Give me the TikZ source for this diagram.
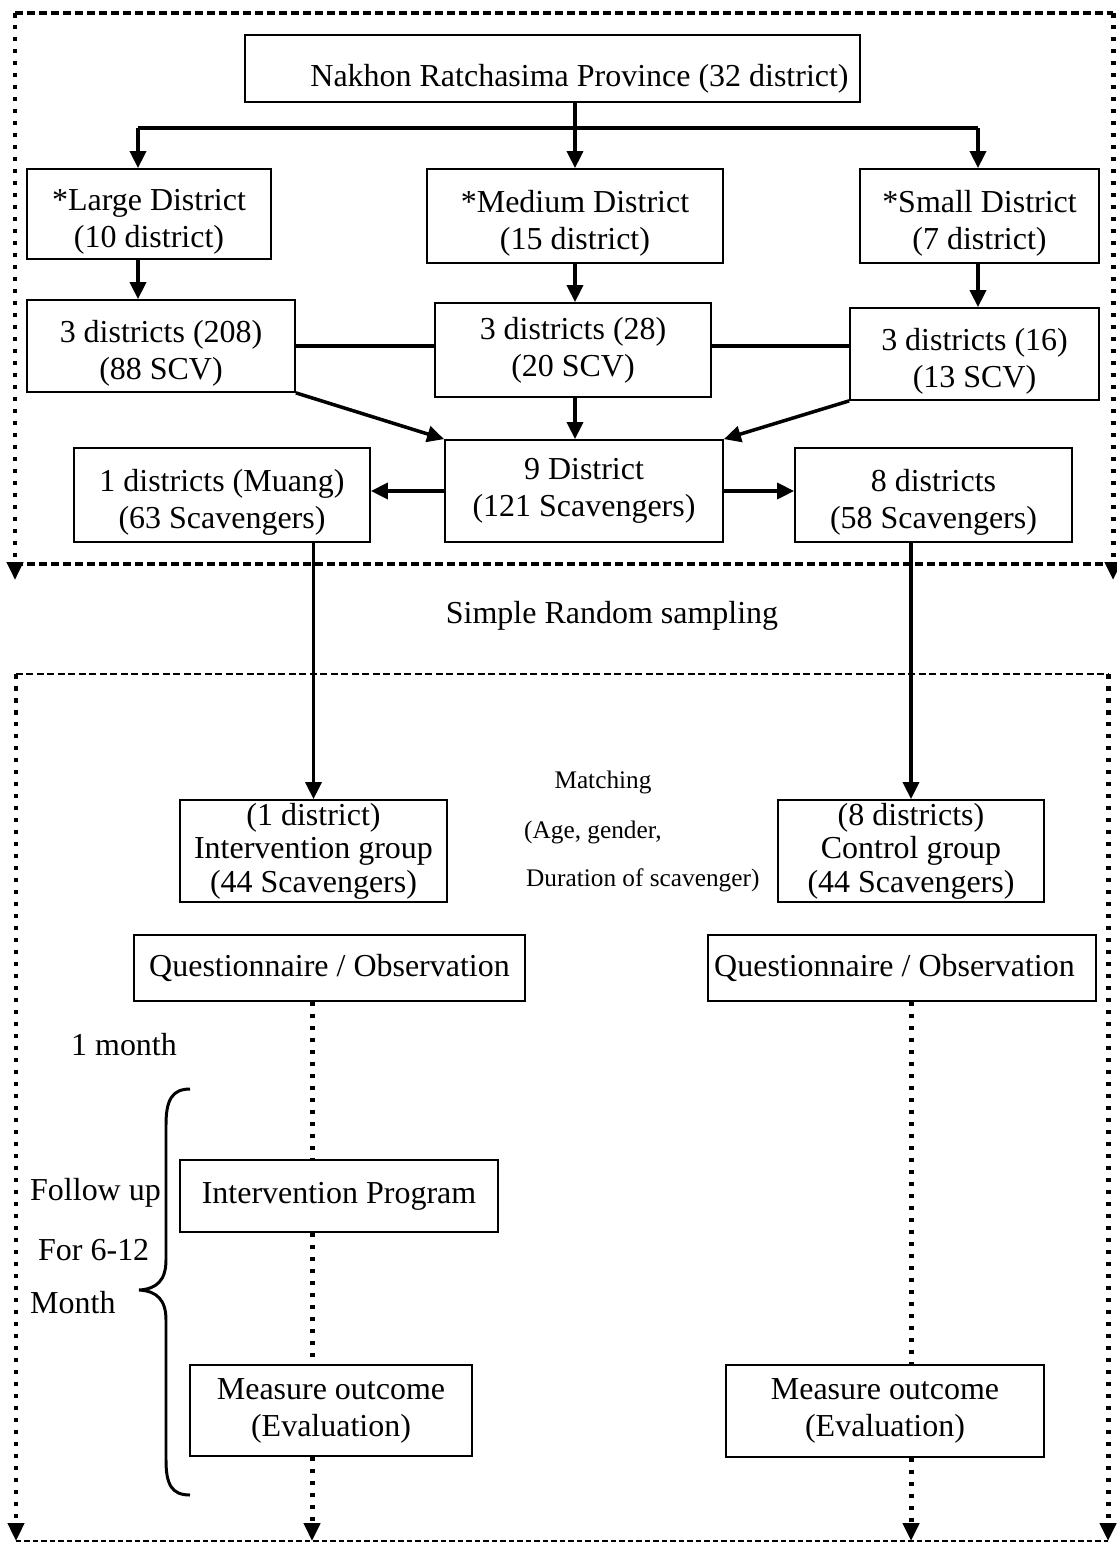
\documentclass[tikz,border=0pt]{standalone}
\usepackage{fontspec}
\setmainfont{Liberation Serif}
\usetikzlibrary{arrows.meta,calc}

% taller first line: pushes a two-line text a little lower in its box
\newcommand\firstlinedrop{\rule{0pt}{0.72cm}}

\tikzset{
  big/.style={font=\fontsize{18.2}{21}\selectfont},
  tight/.style={font=\fontsize{18.2}{19}\selectfont},
  small/.style={font=\fontsize{14.4}{17}\selectfont},
  box/.style 2 args={draw, line width=1pt, big, align=center, inner sep=0pt,
    minimum width=#1*0.02cm, minimum height=#2*0.02cm},
  arr/.style={line width=2pt, -{Triangle[length=0.34cm,width=0.32cm]}},
  link/.style={line width=2pt},
  dotline/.style={line width=0.1cm, dash pattern=on 0.09cm off 0.15cm},
  dotarr/.style={dotline, -{Triangle[length=0.36cm,width=0.32cm]}},
  heavydash/.style={line width=0.065cm, dash pattern=on 0.16cm off 0.08cm},
  lightdash/.style={line width=0.035cm, dash pattern=on 0.11cm off 0.06cm},
}

\begin{document}
\begin{tikzpicture}[x=0.02cm, y=-0.02cm]
\useasboundingbox (0,0) rectangle (1116,1545);

% ---------- stratified selection of districts ----------
\node[box={615}{67}] (top) at (552.5,68.5)
  {\rule{0pt}{0.85cm}\hspace*{1.08cm}Nakhon Ratchasima Province (32 district)};

\node[box={244}{90}] (large)  at (149,214)   {\firstlinedrop*Large District\\(10 district)};
\node[box={296}{94}] (medium) at (575,216)   {\firstlinedrop*Medium District\\(15 district)};
\node[box={239}{94}] (small)  at (979.5,216) {\firstlinedrop*Small District\\(7 district)};

\node[box={268}{92}] (d208) at (161,346)   {\firstlinedrop 3 districts (208)\\(88 SCV)};
\node[box={276}{94}] (d28)  at (573,350)   {3 districts (28)\\(20 SCV)};
\node[box={249}{92}] (d16)  at (974.5,354) {\firstlinedrop 3 districts (16)\\(13 SCV)};

\node[box={278}{102}] (nine)  at (584,491)   {9 District\\(121 Scavengers)};
\node[box={296}{94}]  (muang) at (222,495)   {\firstlinedrop 1 districts (Muang)\\(63 Scavengers)};
\node[box={277}{94}]  (eight) at (933.5,495) {\firstlinedrop 8 districts\\(58 Scavengers)};

% branching from the province box
\coordinate (bl) at (138,128);
\coordinate (br) at (978,128);
\draw[link] (bl) -- (br);
\draw[link] (top.south -| medium.north) -- (bl -| medium.north);
\draw[arr] (bl) -- (bl |- large.north);
\draw[arr] (br) -- (br |- small.north);
\draw[arr] (bl -| medium.north) -- (medium.north);

\draw[arr] (bl |- large.south) -- (bl |- d208.north);
\draw[arr] (medium.south) -- (medium.south |- d28.north);
\draw[arr] (br |- small.south) -- (br |- d16.north);

\draw[link] (d208.east) -- (d208.east -| d28.west);
\draw[link] (d208.east -| d28.east) -- (d208.east -| d16.west);

\draw[arr] (d208.south east) -- (nine.north west);
\draw[arr] (medium.south |- d28.south) -- (medium.south |- nine.north);
\draw[arr] (d16.south west) -- (nine.north east);

\draw[arr] (nine.west) -- (nine.west -| muang.east);
\draw[arr] (nine.east) -- (nine.east -| eight.west);

% frame of the sampling stage
\coordinate (f1) at (15,13);
\coordinate (f2) at (1113,13);
\coordinate (f3) at (15,564);
\coordinate (f4) at (1113,564);
\draw[heavydash] (f1) -- (f2);
\draw[heavydash] (f3) -- (f4);
\draw[dotarr] (f1) -- ([yshift=-16*0.02cm]f3);
\draw[dotarr] (f2) -- ([yshift=-16*0.02cm]f4);

\node[big] (srs) at (612,616) {Simple Random sampling};

% ---------- intervention and control arms ----------
\node[box={267}{102}, tight] (ig) at (313.5,851) {(1 district)\\Intervention group\\(44 Scavengers)};
\node[box={266}{102}, tight] (cg) at (911,851)   {(8 districts)\\Control group\\(44 Scavengers)};

\node[small] (match) at (603,782) {Matching};
\node[small, anchor=west] (agegen) at (518,832) {(Age, gender,};
\node[small, anchor=west] (dur) at (520,880) {Duration of scavenger)};

\draw[arr] (ig.north |- muang.south) -- (ig.north);
\draw[arr] (cg.north |- eight.south) -- (cg.north);

\node[box={391}{66}] (ql) at (329.5,968) {Questionnaire / Observation};
\node[box={388}{66}] (qr) at (902,968)   {Questionnaire / Observation\hspace*{0.3cm}};

\node[big] (month) at (124,1045) {1 month};

\node[box={318}{72}] (ip) at (339,1196)  {Intervention Program};
\node[box={282}{91}] (ml) at (331,1410.5) {Measure outcome\\(Evaluation)};
\node[box={318}{92}] (mr) at (885,1411)  {Measure outcome\\(Evaluation)};

% follow-up period
\node[big, anchor=west] (fu1) at (24,1193) {Follow up};
\node[big, anchor=west] (fu2) at (32,1250) {For 6-12};
\node[big, anchor=west] (fu3) at (24,1303) {Month};
\draw[line width=1.7pt]
  (190,1089) .. controls (172,1089) and (166,1100) .. (166,1125)
  -- (166,1260) .. controls (166,1280) and (157,1289) .. (139,1290)
  .. controls (157,1291) and (166,1300) .. (166,1320)
  -- (166,1460) .. controls (166,1485) and (172,1495) .. (190,1495);

% frame of the follow-up stage
\coordinate (g1) at (16,674);
\coordinate (g2) at (1108,674);
\coordinate (g3) at (16,1541);
\coordinate (g4) at (1108,1541);
\draw[heavydash, line width=0.05cm, dash pattern=on 0.14cm off 0.07cm] (g1) -- (g2);
\draw[lightdash] (g3) -- (g4);
\draw[dotarr] (g1) -- (g3);
\draw[dotarr] (g2) -- (g4);

% timeline of each arm
\coordinate (lx) at (312,0);
\draw[dotline] (lx |- ql.south) -- (lx |- ip.north);
\draw[dotline] (lx |- ip.south) -- (lx |- ml.north);
\draw[dotarr] (lx |- ml.south) -- (lx |- g3);
\draw[dotline] (cg.north |- qr.south) -- (cg.north |- mr.north);
\draw[dotarr] (cg.north |- mr.south) -- (cg.north |- g4);
\end{tikzpicture}
\end{document}
